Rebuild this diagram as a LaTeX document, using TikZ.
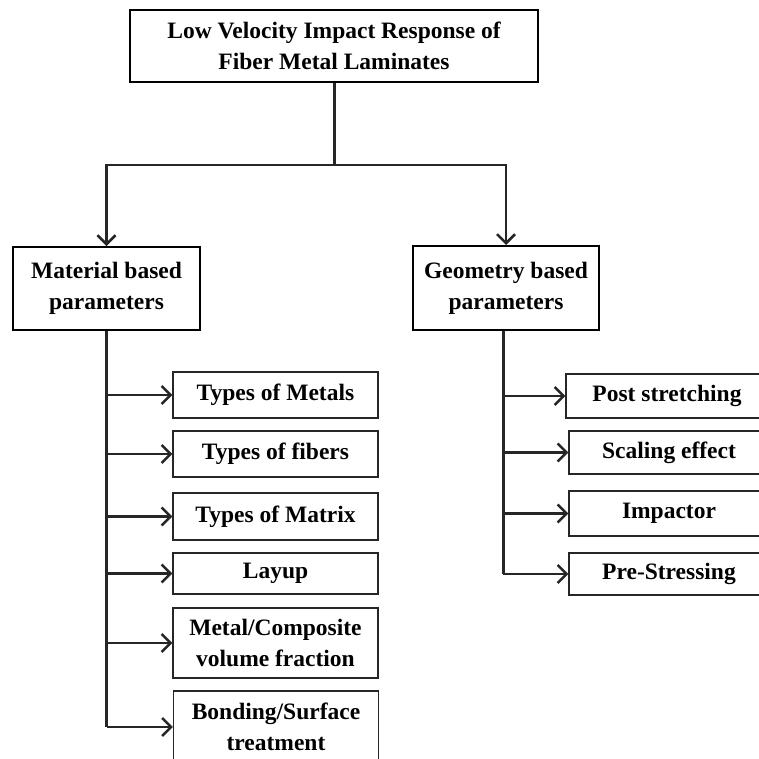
\documentclass[tikz,border=0pt]{standalone}
\usepackage{fontspec}
\setmainfont{Liberation Serif}
\usetikzlibrary{arrows.meta, positioning, calc}

\begin{document}
\begin{tikzpicture}[
        x=1pt, y=-1pt,
        mainbox/.style={rectangle, draw=black, line width=2pt, align=center, inner sep=0pt, font=\fontsize{23.5}{31}\selectfont\bfseries},
        subbox/.style={rectangle, draw=black!85, line width=1.3pt, align=center, inner sep=0pt, minimum width=205pt, font=\fontsize{23.5}{31}\selectfont\bfseries},
        trunk/.style={line width=3pt, black!85},
        arrow/.style={-{Straight Barb[length=9pt, width=18pt]}, line width=2.5pt, black!85}
    ]
        \clip (0,0) rectangle (759,758);
        \fill[white] (0,0) rectangle (759,758);

        % top level
        \node[mainbox, minimum width=408pt, minimum height=72pt] (root) at (334,46) {Low Velocity Impact Response of\\Fiber Metal Laminates};
        \coordinate (split) at (334,165);

        % two groups
        \node[mainbox, minimum width=187pt, minimum height=83pt] (material) at (106.5,288.5) {Material based\\parameters};
        \node[mainbox, minimum width=186pt, minimum height=84pt] (geometry) at (506,288) {Geometry based\\parameters};

        \draw[trunk] (root) -- (split);
        \draw[arrow] (split) -| (material);
        \draw[arrow] (split) -| (geometry);

        % material based parameters
        \node[subbox, minimum height=46pt] (metals) at (275.5,395) {Types of Metals};
        \node[subbox, minimum height=46pt] (fibers) at (275.5,454) {Types of fibers};
        \node[subbox, minimum height=47pt] (matrix) at (275.5,516.5) {Types of Matrix};
        \node[subbox, minimum height=41pt] (layup) at (275.5,573.5) {Layup};
        \node[subbox, minimum height=70pt] (fraction) at (275.5,643) {Metal/Composite\\volume fraction};
        \node[subbox, minimum height=72pt] (bonding) at (276,727) {Bonding/Surface\\treatment};

        % geometry based parameters
        \node[subbox, minimum width=202pt, minimum height=44pt] (stretch) at (667,396) {Post stretching};
        \node[subbox, minimum width=200pt, minimum height=43pt] (scaling) at (669,452.5) {Scaling effect};
        \node[subbox, minimum width=200pt, minimum height=45pt] (impactor) at (669,513.5) {Impactor};
        \node[subbox, minimum width=200pt, minimum height=42pt] (prestress) at (669,574) {Pre-Stressing};

        \draw[trunk] (material.south) -- (material.south |- bonding.west);
        \foreach \n in {metals, fibers, matrix, layup, fraction, bonding}
            \draw[arrow] (material.south |- \n.west) -- (\n.west);

        \draw[trunk] ([xshift=-3pt]geometry.south) -- ([xshift=-3pt]geometry.south |- prestress.west);
        \foreach \n in {stretch, scaling, impactor, prestress}
            \draw[arrow] ([xshift=-3pt]geometry.south |- \n.west) -- (\n.west);
    \end{tikzpicture}
\end{document}
